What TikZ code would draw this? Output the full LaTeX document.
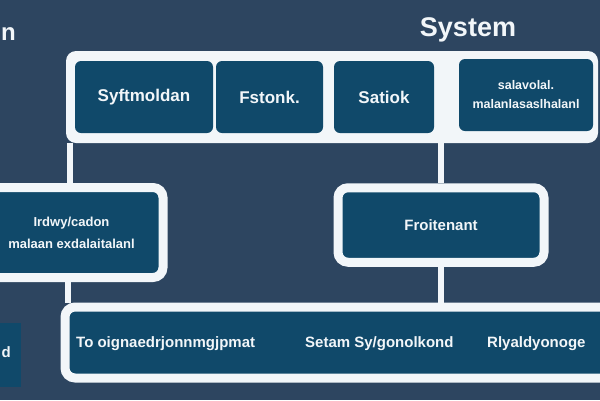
\documentclass[tikz,border=0pt]{standalone}
\usepackage{fontspec}
\setmainfont{Liberation Sans}
\usepackage{tikz}
\usetikzlibrary{shapes}
\definecolor{bgblue}{HTML}{2D4560}
\definecolor{boxblue}{HTML}{10496A}
\definecolor{paper}{HTML}{F2F6F9}

\begin{document}
\begin{tikzpicture}[x=1pt,y=-1pt]
    \tikzstyle{every node}+=[inner sep=0pt, text=paper, font=\bfseries\fontsize{15}{17}\selectfont]
    \tikzstyle{box}=[rectangle, fill=boxblue, rounded corners=6pt, minimum height=72pt, font=\bfseries\fontsize{17}{19}\selectfont]
    \tikzstyle{frame}=[rectangle, fill=boxblue, draw=paper, line width=9pt, rounded corners=10pt]
    \tikzstyle{link}=[draw=paper, line width=6.5pt]
    \useasboundingbox (0,0) rectangle (600,400);
    \clip (0,0) rectangle (600,400);
    \fill [bgblue] (0,0) rectangle (600,400);
    \node (title) at (468,30) [font=\bfseries\fontsize{27}{30}\selectfont] {System};
    \node (cutword) at (1,40) [anchor=base west, font=\bfseries\fontsize{24}{26}\selectfont] {n};
    \node (topframe) at (332,97) [rectangle, fill=paper, rounded corners=10pt, minimum width=532pt, minimum height=92pt] {};
    \node (sysbox) at (144,97) [box, minimum width=138pt] {Syftmoldan};
    \node (fstbox) at (269.5,97) [box, minimum width=107pt] {Fstonk.};
    \node (satbox) at (384,97) [box, minimum width=100pt] {Satiok};
    \node (salbox) at (526,95) [box, minimum width=134pt, align=center, font=\bfseries\fontsize{12.5}{14}\selectfont] {salavolal.\\[5pt]malanlasaslhalanl};
    \node (leftbox) at (71.5,232.5) [frame, minimum width=183pt, minimum height=90pt, align=center, font=\bfseries\fontsize{13}{14}\selectfont] {Irdwy/cadon\\[8pt]malaan exdalaitalanl};
    \node (frontbox) at (441,225) [frame, minimum width=206pt, minimum height=74.5pt] {Froitenant};
    \node (busframe) at (342.5,342.5) [frame, minimum width=555pt, minimum height=71pt] {};
    \node (busleft) at (76,344) [anchor=west] {To oignaedrjonnmgjpmat};
    \node (busmid) at (305,344) [anchor=west] {Setam Sy/gonolkond};
    \node (busright) at (487,344) [anchor=west] {Rlyaldyonoge};
    \node (stubbox) at (5,355) [rectangle, fill=boxblue, minimum width=32pt, minimum height=64pt] {};
    \node (stubtext) at (11,352) [anchor=east] {d};
    \draw [link] ([xshift=4pt]topframe.south west) -- ([xshift=4pt]topframe.south west |- leftbox.north);
    \draw [link] ([xshift=2pt]topframe.south west |- leftbox.south) -- ([xshift=2pt]topframe.south west |- busframe.north);
    \draw [link] (frontbox.north |- topframe.south) -- (frontbox.north);
    \draw [link] (frontbox.south) -- (frontbox.south |- busframe.north);
\end{tikzpicture}
\end{document}
